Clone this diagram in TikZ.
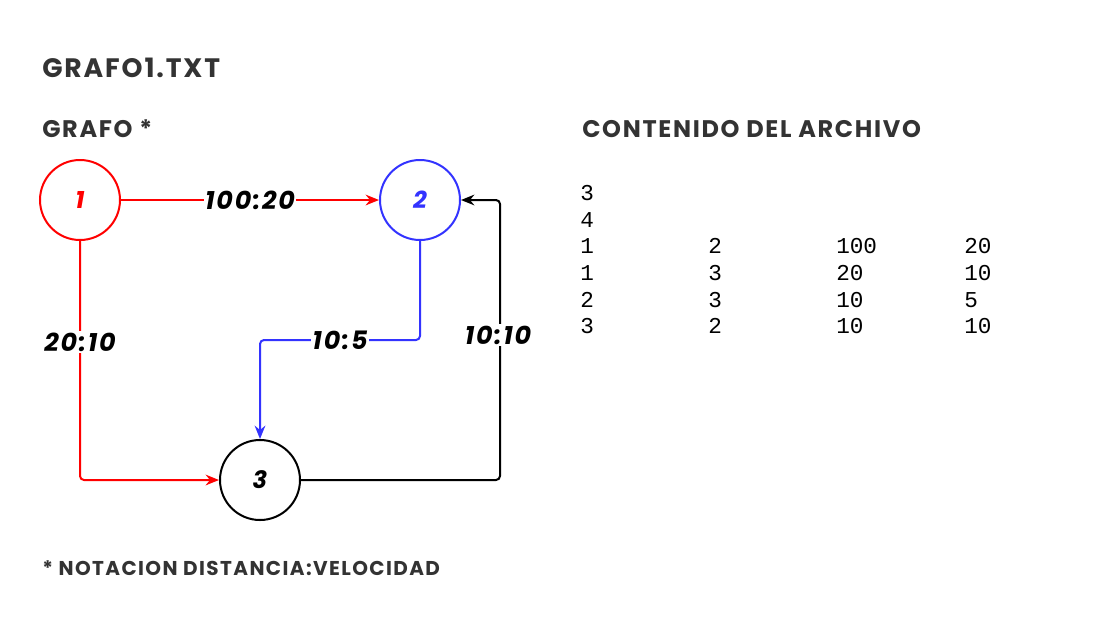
\documentclass[tikz,border=0pt]{standalone}
\usepackage{fontspec}
\setmainfont{Poppins}[LetterSpace=7]
\setmonofont{Liberation Mono}
\usepackage{tikz}
\usetikzlibrary{arrows.meta,calc,positioning,matrix}
\definecolor{ink}{HTML}{333333}
\definecolor{rojo}{HTML}{FF0000}
\definecolor{azul}{HTML}{3333FF}
\tikzset{
  vertex/.style={circle,draw,line width=1.5pt,minimum size=60pt,inner sep=0pt,
                 font=\fontsize{18}{18}\selectfont\bfseries\itshape},
  arc/.style={line width=1.5pt,rounded corners=3pt,-{Stealth[length=10pt,width=8pt]}},
  weight/.style={fill=white,inner sep=1pt,text=black,
                 font=\fontsize{19}{19}\selectfont\bfseries\itshape},
  heading/.style={anchor=base west,inner sep=0pt,text=ink,font=\bfseries}
}
\begin{document}
\begin{tikzpicture}[x=0.75pt,y=-0.75pt]
  \useasboundingbox (0,0) rectangle (1120,640);
  % titles
  \node[heading,font=\fontsize{20}{20}\selectfont\bfseries] (title) at (42,77) {GRAFO1.TXT};
  \node[heading,font=\fontsize{18}{18}\selectfont\bfseries] (hgraph) at (42,137) {GRAFO *};
  \node[heading,font=\fontsize{18}{18}\selectfont\bfseries] (hfile) at (582,137) {CONTENIDO DEL ARCHIVO};
  \node[heading,font=\fontsize{15}{15}\selectfont\bfseries] (note) at (42,575) {* NOTACION DISTANCIA:VELOCIDAD};
  % graph
  \node[vertex,rojo] (n1) at (80,200) {1};
  \node[vertex,azul] (n2) at (420,200) {2};
  \node[vertex] (n3) at (260,480) {3};
  \coordinate (m23) at ($(n2)!.5!(n3)$);
  \coordinate (c32) at (500,340);
  \draw[arc,rojo] (n1) -- (n2);
  \draw[arc,rojo] (n1) |- (n3);
  \draw[arc,azul] (n2) |- (m23) -| (n3);
  \draw[arc] (n3) -| (c32) |- (n2);
  \node[weight] (w12) at (250,200) {100:20};
  \node[weight] (w13) at (80,342) {20:10};
  \node[weight] (w23) at (m23) {10:5};
  \node[weight] (w32) at (498,335) {10:10};
  % file contents
  \matrix (data) [matrix of nodes, anchor=north west, inner sep=0pt, row sep=0pt, column sep=0pt,
                  nodes={text width=96pt,inner sep=0pt,align=left,text height=13pt,
                         text depth=7pt,font=\fontsize{17}{20}\selectfont\ttfamily}]
    at (580,183) {
    3 \\
    4 \\
    1 & 2 & 100 & 20 \\
    1 & 3 & 20 & 10 \\
    2 & 3 & 10 & 5 \\
    3 & 2 & 10 & 10 \\};
\end{tikzpicture}
\end{document}
